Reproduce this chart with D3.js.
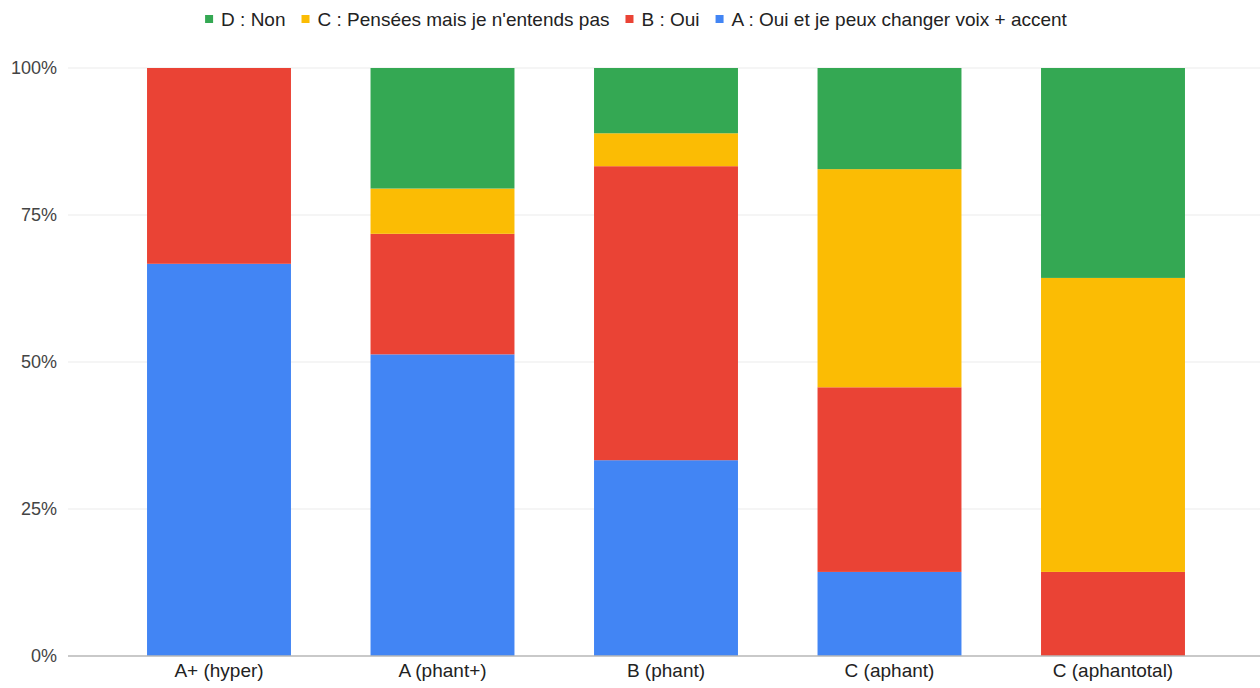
<!DOCTYPE html>
<html><head><meta charset="utf-8">
<script src="https://cdn.jsdelivr.net/npm/d3@7"></script>
<style>body{margin:0;background:#fff;} svg{display:block;font-family:"Liberation Sans",Arial,sans-serif;}</style>
</head><body>
<svg id="c" width="1260" height="688"></svg>
<script>
const categories = ["A+ (hyper)", "A (phant+)", "B (phant)", "C (aphant)", "C (aphantotal)"];
const seriesNames = ["A : Oui et je peux changer voix + accent", "B : Oui", "C : Pensées mais je n'entends pas", "D : Non"];
const seriesA = [66.7, 51.3, 33.3, 14.3, 0];
const seriesB = [33.3, 20.5, 50.0, 31.4, 14.3];
const seriesC = [0, 7.7, 5.6, 37.1, 50.0];
const seriesD = [0, 20.5, 11.1, 17.2, 35.7];
const colors = ["#4285f4", "#ea4335", "#fbbc04", "#34a853"];
const yTicks = [0, 25, 50, 75, 100];
const yTickLabels = ["0%", "25%", "50%", "75%", "100%"];

const svg = d3.select("#c");
const x = d3.scaleBand().domain(categories).range([107.25, 1224.75]).paddingInner(0.356).paddingOuter(0.178);
const y = d3.scaleLinear().domain([0, 100]).range([656, 68]);

// gridlines
svg.append("g").selectAll("line").data(yTicks.filter(d => d > 0)).join("line")
  .attr("x1", 68).attr("x2", 1260).attr("y1", d => y(d)).attr("y2", d => y(d))
  .attr("stroke", "#ebebeb").attr("stroke-width", 1);

const rows = categories.map((c, i) => ({cat: c, v: [seriesA[i], seriesB[i], seriesC[i], seriesD[i]]}));
const stack = [];
rows.forEach(r => {
  let acc = 0;
  const tot = d3.sum(r.v);
  r.v.forEach((v, k) => { stack.push({cat: r.cat, k, y0: acc / tot * 100, y1: (acc + v) / tot * 100}); acc += v; });
});
svg.append("g").selectAll("rect").data(stack.filter(d => d.y1 > d.y0)).join("rect")
  .attr("x", d => x(d.cat)).attr("width", x.bandwidth())
  .attr("y", d => y(d.y1)).attr("height", d => y(d.y0) - y(d.y1))
  .attr("fill", d => colors[d.k]);

// baseline
svg.append("line").attr("x1", 68).attr("x2", 1260).attr("y1", y(0)).attr("y2", y(0))
  .attr("stroke", "#b7b7b7").attr("stroke-width", 1.5);

// y labels
svg.append("g").selectAll("text").data(yTicks).join("text")
  .attr("x", 57).attr("y", d => y(d)).attr("dy", "0.35em").attr("text-anchor", "end")
  .attr("font-size", 18).attr("fill", "#444").text((d, i) => yTickLabels[i]);

// x labels
svg.append("g").selectAll("text").data(categories).join("text")
  .attr("x", d => x(d) + x.bandwidth() / 2).attr("y", 677).attr("text-anchor", "middle")
  .attr("font-size", 19).attr("fill", "#222").text(d => d);

// legend
const legendOrder = [3, 2, 1, 0];
const lg = svg.append("g");
let lx = 0;
legendOrder.forEach(k => {
  const g = lg.append("g");
  g.append("rect").attr("x", 0).attr("y", -4).attr("width", 8).attr("height", 8).attr("fill", colors[k]);
  const t = g.append("text").attr("x", 16).attr("y", 0).attr("dy", "0.35em").attr("font-size", 19).attr("fill", "#222").text(seriesNames[k]);
  const w = 16 + t.node().getComputedTextLength();
  g.attr("transform", `translate(${lx},19)`);
  lx += w + 16;
});
const totalW = lx - 16;
lg.attr("transform", `translate(${636 - totalW / 2},0)`);
</script>
</body></html>
